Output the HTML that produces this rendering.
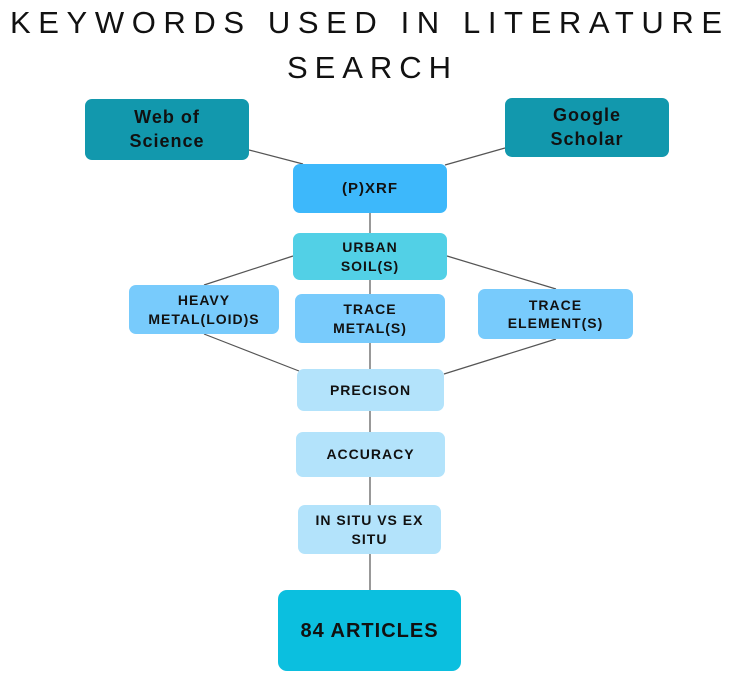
<!DOCTYPE html>
<html><head><meta charset="utf-8"><style>
html,body{margin:0;padding:0;background:#fff;width:742px;height:692px;overflow:hidden;position:relative;font-family:"Liberation Sans",sans-serif}
.b{position:absolute;border-radius:7px;display:flex;align-items:center;justify-content:center;text-align:center;font-weight:bold;color:#111;letter-spacing:1px;line-height:1.3}
svg{position:absolute;left:0;top:0}
</style></head><body>
<svg width="742" height="692">
<text x="10" y="33" textLength="712" lengthAdjust="spacing" font-family="Liberation Sans" font-size="31" fill="#111">KEYWORDS USED IN LITERATURE</text>
<text x="287" y="78" textLength="164" lengthAdjust="spacing" font-family="Liberation Sans" font-size="31" fill="#111">SEARCH</text>
<g stroke="#555" stroke-width="1.2" fill="none">
<line x1="249" y1="150" x2="303" y2="164"/>
<line x1="505" y1="148" x2="445" y2="165"/>
<line x1="370" y1="213" x2="370" y2="590"/>
<line x1="293" y1="256" x2="204" y2="285"/>
<line x1="447" y1="256" x2="556" y2="289"/>
<line x1="204" y1="334" x2="299" y2="371"/>
<line x1="556" y1="339" x2="444" y2="374"/>
</g>
</svg>
<div class="b" style="left:85px;top:99px;width:164px;height:61px;background:#1298ad;font-size:18px">Web of<br>Science</div>
<div class="b" style="left:505px;top:98px;width:164px;height:59px;background:#1298ad;font-size:18px">Google<br>Scholar</div>
<div class="b" style="left:293px;top:164px;width:154px;height:49px;background:#3db8fb;font-size:15px">(P)XRF</div>
<div class="b" style="left:293px;top:233px;width:154px;height:47px;background:#52d0e6;font-size:14px">URBAN<br>SOIL(S)</div>
<div class="b" style="left:129px;top:285px;width:150px;height:49px;background:#78cbfc;font-size:14px">HEAVY<br>METAL(LOID)S</div>
<div class="b" style="left:295px;top:294px;width:150px;height:49px;background:#78cbfc;font-size:14px">TRACE<br>METAL(S)</div>
<div class="b" style="left:478px;top:289px;width:155px;height:50px;background:#78cbfc;font-size:14px">TRACE<br>ELEMENT(S)</div>
<div class="b" style="left:297px;top:369px;width:147px;height:42px;background:#b3e3fb;font-size:14px">PRECISON</div>
<div class="b" style="left:296px;top:432px;width:149px;height:45px;background:#b3e3fb;font-size:14px">ACCURACY</div>
<div class="b" style="left:298px;top:505px;width:143px;height:49px;background:#b3e3fb;font-size:14px">IN SITU VS EX<br>SITU</div>
<div class="b" style="left:278px;top:590px;width:183px;height:81px;background:#0bbfdf;font-size:20px;border-radius:9px">84 ARTICLES</div>
</body></html>
